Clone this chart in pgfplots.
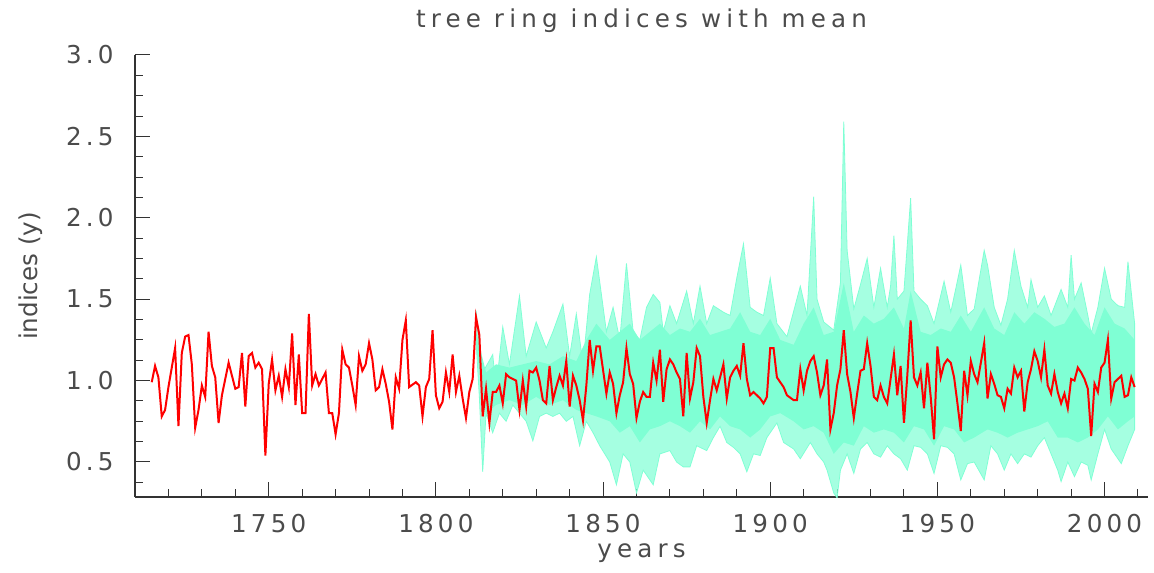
\documentclass[border=0pt]{standalone}
\usepackage{fontspec}
\setmainfont{DejaVu Sans}
\newfontfamily\lblfont{DejaVu Sans}[LetterSpace=21]
\newfontfamily\tickfont{DejaVu Sans}[LetterSpace=17]
\usepackage{pgfplots}
\pgfplotsset{compat=1.18}
\usepackage{pgfplotstable}
\definecolor{aqua}{RGB}{127,255,212}
\definecolor{txt}{RGB}{75,75,75}

% mean of the tree ring indices (red)
\pgfplotstableread{
year val
1715 0.99
1716 1.09
1717 1.02
1718 0.78
1719 0.82
1720 0.96
1721 1.08
1722 1.20
1723 0.72
1724 1.17
1725 1.27
1726 1.28
1727 1.10
1728 0.71
1729 0.82
1730 0.97
1731 0.90
1732 1.30
1733 1.09
1734 1.02
1735 0.74
1736 0.91
1738 1.11
1739 1.03
1740 0.95
1741 0.96
1742 1.17
1743 0.84
1744 1.15
1745 1.17
1746 1.08
1747 1.11
1748 1.07
1749 0.54
1750 0.98
1751 1.13
1752 0.94
1753 1.03
1754 0.90
1755 1.07
1756 0.96
1757 1.29
1758 0.85
1759 1.16
1760 0.80
1761 0.80
1762 1.41
1763 0.97
1764 1.04
1765 0.97
1766 1.01
1767 1.05
1768 0.80
1769 0.80
1770 0.67
1771 0.80
1772 1.19
1773 1.10
1774 1.08
1775 0.97
1776 0.85
1777 1.15
1778 1.06
1779 1.10
1780 1.23
1781 1.13
1782 0.94
1783 0.96
1784 1.07
1785 0.98
1786 0.87
1787 0.70
1788 1.02
1789 0.95
1790 1.25
1791 1.37
1792 0.96
1794 0.99
1795 0.97
1796 0.78
1797 0.96
1798 1.01
1799 1.31
1800 0.91
1801 0.83
1802 0.87
1803 1.05
1804 0.93
1805 1.16
1806 0.93
1807 1.03
1808 0.89
1809 0.77
1810 0.93
1811 1.01
1812 1.39
1813 1.28
1814 0.78
1815 0.95
1816 0.74
1817 0.93
1818 0.93
1819 0.97
1820 0.86
1821 1.04
1822 1.02
1823 1.01
1824 1.00
1825 0.82
1826 1.00
1827 0.84
1828 1.06
1829 1.05
1830 1.08
1831 1.00
1832 0.88
1833 0.86
1834 1.09
1835 0.88
1836 0.96
1837 1.03
1838 0.97
1839 1.12
1840 0.84
1841 1.03
1842 0.97
1843 0.88
1844 0.755
1845 0.97
1846 1.25
1847 1.06
1848 1.21
1849 1.21
1851 0.92
1852 1.05
1853 0.98
1854 0.80
1855 0.91
1856 0.99
1857 1.20
1858 1.04
1859 0.98
1860 0.77
1861 0.87
1862 0.93
1863 0.90
1864 0.90
1865 1.11
1866 1.00
1867 1.19
1868 0.87
1869 1.07
1870 1.13
1871 1.10
1872 1.05
1873 1.01
1874 0.78
1875 1.17
1876 0.89
1877 0.99
1878 1.20
1879 1.15
1880 0.90
1881 0.74
1882 0.88
1883 1.01
1884 0.94
1885 1.02
1886 1.10
1887 0.89
1888 1.02
1889 1.06
1890 1.09
1891 1.03
1892 1.23
1893 1.01
1894 0.91
1895 0.93
1896 0.91
1897 0.89
1898 0.86
1899 0.90
1900 1.20
1901 1.20
1902 1.02
1903 0.99
1904 0.96
1905 0.91
1907 0.88
1908 0.88
1909 1.07
1910 0.94
1911 1.06
1912 1.12
1913 1.15
1914 1.05
1915 0.91
1916 0.97
1917 1.13
1918 0.70
1919 0.80
1920 0.97
1921 1.07
1922 1.31
1923 1.04
1924 0.93
1925 0.77
1926 0.92
1927 1.06
1928 1.07
1929 1.23
1930 1.09
1931 0.90
1932 0.88
1933 0.97
1934 0.90
1935 0.86
1936 1.01
1937 1.16
1938 0.91
1939 1.09
1940 0.74
1941 1.03
1942 1.37
1943 1.02
1944 0.97
1945 1.05
1946 0.83
1947 1.11
1948 0.90
1949 0.64
1950 1.21
1951 1.02
1952 1.10
1953 1.13
1954 1.11
1955 1.02
1956 0.86
1957 0.69
1958 1.06
1959 0.91
1960 1.12
1961 1.04
1962 0.99
1964 1.23
1965 0.89
1966 1.04
1967 0.98
1968 0.91
1969 0.90
1970 0.83
1971 0.95
1972 0.92
1973 1.08
1974 1.02
1975 1.06
1976 0.81
1977 0.99
1978 1.07
1979 1.18
1980 1.12
1981 1.02
1982 1.19
1983 0.97
1984 0.92
1985 1.04
1986 0.93
1987 0.86
1988 0.92
1989 0.83
1990 1.01
1991 1.00
1992 1.08
1993 1.05
1994 1.01
1995 0.95
1996 0.66
1997 0.98
1998 0.93
1999 1.08
2000 1.11
2001 1.25
2002 0.89
2003 0.99
2004 1.01
2005 1.03
2006 0.90
2007 0.91
2008 1.02
2009 0.96
}\redtab

% envelope of the individual tree series: upper bound forward, lower bound backward
\pgfplotstableread{
year val
1812 1.43
1814 1.05
1817 1.16
1818 0.95
1820 1.33
1822 1.10
1825 1.52
1827 1.15
1830 1.36
1833 1.20
1835 1.30
1838 1.47
1840 1.15
1842 1.41
1844 1.10
1846 1.53
1848 1.76
1851 1.30
1853 1.45
1855 1.25
1857 1.72
1859 1.30
1861 1.25
1863 1.45
1865 1.53
1867 1.48
1868 1.30
1870 1.46
1872 1.35
1875 1.55
1877 1.35
1879 1.58
1881 1.35
1883 1.46
1886 1.42
1888 1.40
1890 1.63
1892 1.84
1894 1.45
1896 1.42
1898 1.40
1900 1.63
1902 1.35
1905 1.27
1909 1.58
1911 1.40
1913 2.13
1914 1.50
1916 1.36
1919 1.31
1921 1.60
1922 2.59
1923 1.80
1925 1.44
1927 1.59
1929 1.75
1931 1.45
1933 1.69
1935 1.45
1936 1.58
1937 1.89
1938 1.50
1940 1.55
1942 2.12
1943 1.55
1945 1.50
1947 1.46
1949 1.35
1952 1.61
1954 1.42
1957 1.71
1959 1.40
1961 1.44
1964 1.80
1965 1.71
1967 1.45
1969 1.34
1971 1.50
1973 1.80
1975 1.58
1977 1.45
1978 1.62
1980 1.45
1982 1.52
1984 1.40
1987 1.56
1989 1.45
1990 1.77
1991 1.50
1993 1.60
1995 1.40
1996 1.29
1998 1.45
2000 1.69
2002 1.50
2004 1.46
2006 1.45
2007 1.73
2008 1.54
2009 1.35
2009 0.70
2007 0.60
2005 0.49
2002 0.58
2000 0.70
1998 0.55
1996 0.39
1995 0.48
1993 0.50
1991 0.41
1989 0.50
1987 0.38
1986 0.45
1984 0.55
1982 0.65
1980 0.60
1978 0.53
1976 0.55
1974 0.49
1972 0.55
1970 0.45
1968 0.55
1966 0.60
1964 0.39
1961 0.50
1959 0.49
1957 0.39
1955 0.55
1953 0.59
1951 0.60
1949 0.43
1947 0.55
1945 0.59
1943 0.60
1941 0.45
1939 0.52
1937 0.55
1935 0.60
1933 0.53
1931 0.55
1929 0.62
1927 0.58
1925 0.43
1923 0.55
1921 0.45
1920 0.28
1919 0.31
1917 0.45
1916 0.50
1914 0.55
1912 0.62
1909 0.52
1907 0.58
1904 0.62
1902 0.74
1899 0.65
1897 0.54
1895 0.55
1893 0.44
1891 0.55
1889 0.59
1887 0.62
1885 0.72
1883 0.65
1881 0.57
1878 0.60
1876 0.47
1874 0.47
1872 0.50
1870 0.57
1867 0.55
1865 0.36
1862 0.45
1860 0.31
1858 0.50
1856 0.55
1854 0.36
1852 0.50
1849 0.60
1847 0.68
1845 0.75
1843 0.60
1841 0.78
1839 0.75
1837 0.80
1835 0.78
1833 0.80
1831 0.78
1829 0.63
1827 0.75
1825 0.80
1823 0.85
1821 0.75
1819 0.80
1817 0.68
1815 0.80
1814 0.44
1813 0.90
1812 1.25
}\envtab

% dense core of the tree series: upper bound forward, lower bound backward
\pgfplotstableread{
year val
1812 1.30
1815 1.05
1818 1.10
1822 1.08
1826 1.10
1830 1.12
1834 1.10
1838 1.15
1842 1.12
1845 1.25
1848 1.35
1852 1.25
1855 1.30
1858 1.35
1861 1.25
1864 1.30
1867 1.35
1870 1.28
1873 1.32
1876 1.30
1879 1.38
1882 1.28
1885 1.30
1888 1.32
1891 1.42
1894 1.30
1897 1.28
1900 1.38
1903 1.25
1907 1.22
1910 1.35
1913 1.45
1916 1.28
1919 1.30
1922 1.60
1925 1.30
1928 1.40
1931 1.35
1934 1.38
1937 1.45
1940 1.32
1942 1.55
1945 1.30
1948 1.28
1951 1.32
1954 1.30
1957 1.40
1960 1.30
1964 1.45
1967 1.32
1970 1.28
1973 1.42
1976 1.35
1979 1.42
1982 1.38
1985 1.33
1988 1.35
1991 1.45
1994 1.35
1997 1.28
2000 1.45
2003 1.35
2006 1.32
2009 1.25
2009 0.78
2007 0.75
2004 0.70
2001 0.78
1998 0.70
1995 0.65
1992 0.62
1989 0.65
1986 0.65
1983 0.75
1980 0.72
1977 0.70
1974 0.68
1971 0.65
1968 0.68
1965 0.70
1961 0.65
1958 0.62
1955 0.70
1952 0.72
1949 0.60
1946 0.70
1943 0.72
1940 0.62
1937 0.68
1934 0.70
1931 0.68
1928 0.72
1925 0.60
1922 0.62
1919 0.55
1916 0.68
1913 0.72
1910 0.70
1907 0.75
1903 0.80
1900 0.78
1897 0.70
1894 0.65
1891 0.70
1888 0.72
1885 0.78
1882 0.70
1879 0.75
1876 0.68
1873 0.72
1870 0.75
1867 0.72
1864 0.70
1861 0.62
1858 0.72
1855 0.68
1852 0.75
1848 0.78
1845 0.80
1842 0.82
1838 0.88
1834 0.85
1830 0.90
1826 0.85
1822 0.88
1818 0.85
1815 0.80
1812 1.20
}\coretab

\begin{document}
\begin{tikzpicture}
\useasboundingbox (-67.5pt,-37.5pt) rectangle (509.5pt,248.5pt);
\begin{axis}[
  at={(0,0)}, anchor=south west,
  scale only axis, width=506.5pt, height=221pt,
  xmin=1710, xmax=2013, ymin=0.285, ymax=3.0,
  axis x line*=bottom, axis y line*=left,
  axis line style={black!80, line width=0.6pt},
  xtick={1750,1800,...,2000},
  minor xtick={1720,1730,...,2010},
  ytick={0.5,1.0,...,3.0},
  minor ytick={0.375,0.5,...,2.875},
  tick align=inside,
  major tick length=7.5pt, minor tick length=4pt,
  every tick/.style={black!80, line width=0.5pt},
  /pgf/number format/assume math mode=true,
  every tick label/.append style={font=\tickfont\fontsize{12.3}{14}\selectfont, text=txt},
  xticklabel style={anchor=base, yshift=-17.5pt, /pgf/number format/1000 sep={}},
  yticklabel style={anchor=east, inner sep=0pt, xshift=-10.5pt,
    /pgf/number format/.cd, fixed, fixed zerofill, precision=1},
  title={\lblfont tree ring indices with mean},
  title style={at={(0.5,1)}, anchor=base, yshift=7.5pt,
    font=\fontsize{12.3}{14}\selectfont, text=txt},
  xlabel={\lblfont years},
  xlabel style={at={(axis description cs:0.5,0)}, anchor=base, yshift=-30pt,
    font=\fontsize{12.3}{14}\selectfont, text=txt},
  ylabel={indices (y)},
  ylabel style={at={(axis description cs:-0.0958,0.5)}, anchor=base,
    font=\fontsize{12.3}{14}\selectfont, text=txt},
]
\addplot[draw=aqua, line width=0.4pt, fill=aqua, fill opacity=0.7]
  table[x index=0, y index=1]{\envtab};
\addplot[draw=none, fill=aqua] table[x index=0, y index=1]{\coretab};
\addplot[red, line width=1pt] table[x index=0, y index=1]{\redtab};
\end{axis}
\end{tikzpicture}
\end{document}
